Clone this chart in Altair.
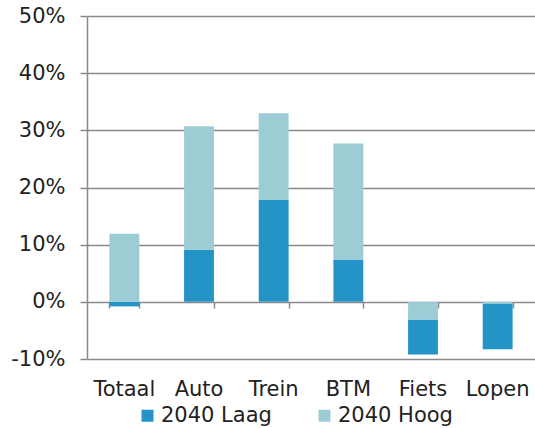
import altair as alt
import pandas as pd

categories = ["Totaal", "Auto", "Trein", "BTM", "Fiets", "Lopen"]
series = ["2040 Laag", "2040 Hoog"]
# segment sizes (percentage points) as stacked in the picture
laag = [-0.8, 9.1, 17.8, 7.4, -6.1, -8.0]
hoog = [11.9, 21.6, 15.2, 20.3, -3.1, -0.3]
colors = ["#2494C6", "#9DCDD4"]

rows = []
for c, l, h in zip(categories, laag, hoog):
    # segment closest to zero first
    rows.append({"cat": c, "serie": series[0], "val": l, "ord": 0 if l > 0 else 1})
    rows.append({"cat": c, "serie": series[1], "val": h, "ord": 1 if l > 0 else 0})
df = pd.DataFrame(rows)

FONT = "DejaVu Sans"
FS = 21
GRAY = "#8a8a8a"
TXT = "#222222"
xscale = alt.Scale(domain=categories, paddingInner=0.6, paddingOuter=0.3)

bars = alt.Chart(df).mark_bar().encode(
    x=alt.X("cat:N", sort=categories, scale=xscale,
            axis=alt.Axis(title=None, orient="bottom", domain=False, ticks=False,
                          tickSize=0, labelAngle=0, labelFont=FONT, labelFontSize=FS,
                          labelColor=TXT, labelPadding=19)),
    y=alt.Y("val:Q", stack="zero",
            scale=alt.Scale(domain=[-10, 50], nice=False, zero=False),
            axis=alt.Axis(title=None, values=[-10, 0, 10, 20, 30, 40, 50],
                          labelExpr="datum.value + '%'", grid=True, gridColor=GRAY,
                          gridWidth=1.5, domainColor=GRAY, domainWidth=1.5,
                          tickColor=GRAY, tickWidth=1.5, tickSize=7,
                          labelFont=FONT, labelFontSize=FS, labelColor=TXT,
                          labelPadding=15)),
    color=alt.Color("serie:N", scale=alt.Scale(domain=series, range=colors),
                    legend=alt.Legend(title=None, orient="none", direction="horizontal",
                                      legendX=50, legendY=389, symbolType="square",
                                      symbolSize=144, symbolStrokeWidth=0,
                                      labelFont=FONT, labelFontSize=FS,
                                      labelColor=TXT, labelOffset=3,
                                      columnPadding=42, padding=0)),
    order=alt.Order("ord:Q"),
)

ticks0 = alt.Chart(df).mark_point(opacity=0).encode(
    x=alt.X("cat:N", sort=categories, scale=xscale,
            axis=alt.Axis(title=None, orient="bottom", offset=-57, domain=False,
                          labels=False, ticks=True, tickBand="extent", tickSize=6,
                          tickColor=GRAY, tickWidth=1.5)),
)

chart = alt.layer(bars, ticks0).resolve_axis(x="independent").properties(
    width=448, height=343,
    autosize=alt.AutoSizeParams(type="none"),
    padding={"left": 87, "top": 16, "right": 0, "bottom": 69},
).configure_view(stroke=None)

chart.save("out.html", embed_options={"renderer": "svg", "actions": False})
